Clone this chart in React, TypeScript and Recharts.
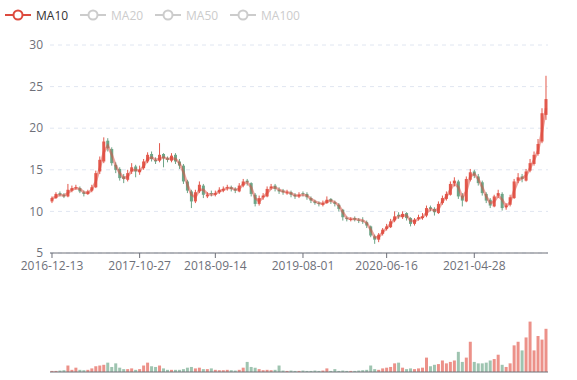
import React from "react";
import {
    ComposedChart,
    BarChart,
    Bar,
    Line,
    XAxis,
    YAxis,
    CartesianGrid,
    Cell,
} from "recharts";

// x axis labels and the bar index they sit on
const tickIndex = [0, 22, 41, 63, 84, 106];
const tickLabels = [
    "2016-12-13",
    "2017-10-27",
    "2018-09-14",
    "2019-08-01",
    "2020-06-16",
    "2021-04-28",
];

const maNames = ["MA10", "MA20", "MA50", "MA100"];

// one candle per ~2 weeks
const open = [
    11.2, 11.6, 12.2, 12.0, 11.8, 12.5, 12.9, 12.8, 12.3, 12.1,
    12.5, 12.9, 14.8, 16.0, 18.5, 17.5, 15.6, 15.1, 14.2, 13.8,
    14.8, 15.4, 14.7, 15.2, 16.0, 16.9, 16.2, 16.1, 16.9, 16.4,
    16.1, 16.8, 16.0, 15.5, 13.6, 12.4, 11.2, 12.4, 13.1, 11.8,
    12.2, 12.0, 12.3, 12.5, 12.8, 12.9, 12.7, 12.4, 13.1, 13.7,
    13.4, 12.0, 10.9, 11.7, 11.8, 12.8, 13.1, 12.6, 12.5, 12.2,
    12.3, 12.0, 11.8, 12.2, 12.1, 11.6, 11.2, 11.0, 10.8, 11.0,
    11.5, 11.1, 10.8, 10.2, 9.2, 9.0, 9.2, 9.0, 8.9, 8.7,
    8.2, 7.0, 6.6, 7.3, 7.9, 8.1, 8.9, 9.6, 9.3, 9.8,
    9.2, 8.5, 9.1, 9.2, 9.5, 10.5, 10.3, 9.8, 11.0, 11.5,
    12.0, 13.4, 13.6, 11.9, 11.2, 13.8, 14.8, 14.2, 13.5, 12.1,
    11.4, 10.6, 11.9, 12.1, 10.5, 10.8, 11.6, 13.7, 14.2, 13.7,
    14.9, 15.7, 16.9, 18.4, 21.6,
];
const close = [
    11.6, 12.1, 12.0, 11.8, 12.6, 12.8, 12.9, 12.4, 12.1, 12.4,
    12.9, 14.6, 16.2, 18.4, 17.6, 15.8, 15.0, 14.0, 13.9, 14.6,
    15.3, 14.8, 15.0, 16.0, 16.8, 16.3, 16.0, 16.8, 16.4, 16.2,
    16.7, 16.0, 15.5, 13.6, 12.5, 11.2, 12.3, 13.2, 12.0, 12.0,
    12.1, 12.2, 12.6, 12.7, 12.9, 12.7, 12.5, 13.1, 13.6, 13.5,
    12.1, 10.9, 11.6, 11.9, 12.7, 13.0, 12.7, 12.4, 12.3, 12.3,
    12.0, 11.8, 12.0, 12.1, 11.7, 11.3, 11.0, 10.9, 11.0, 11.4,
    11.2, 10.9, 10.3, 9.3, 9.1, 9.1, 9.0, 8.9, 8.8, 8.3,
    7.1, 6.6, 7.2, 7.8, 8.2, 8.8, 9.4, 9.4, 9.7, 9.2,
    8.5, 9.0, 9.3, 9.4, 10.4, 10.3, 9.9, 10.9, 11.6, 12.1,
    13.3, 13.7, 11.8, 11.3, 13.9, 14.7, 14.3, 13.4, 12.2, 11.3,
    10.7, 11.8, 12.2, 10.4, 10.7, 11.7, 13.6, 14.1, 13.9, 14.8,
    15.8, 16.8, 18.1, 21.8, 23.5,
];
const high = [
    11.8, 12.3, 12.4, 12.2, 13.3, 13.1, 13.2, 13.0, 12.5, 12.6,
    13.2, 14.9, 16.6, 18.9, 18.8, 17.7, 15.9, 15.3, 14.5, 15.0,
    15.8, 15.6, 15.5, 16.3, 17.1, 17.2, 16.5, 18.2, 17.0, 16.6,
    17.0, 17.0, 16.3, 15.7, 13.8, 12.6, 12.6, 13.6, 13.3, 12.3,
    12.5, 12.5, 12.9, 13.0, 13.2, 13.1, 12.9, 13.4, 13.9, 13.9,
    13.5, 12.2, 11.9, 12.2, 13.0, 13.3, 13.3, 12.9, 12.7, 12.6,
    12.5, 12.2, 12.3, 12.4, 12.3, 11.8, 11.4, 11.2, 11.3, 11.8,
    11.6, 11.3, 11.0, 10.3, 9.4, 9.3, 9.4, 9.2, 9.3, 8.9,
    8.3, 7.2, 7.4, 8.0, 8.5, 9.1, 10.0, 9.9, 10.0, 9.9,
    9.3, 9.2, 9.6, 9.8, 10.7, 10.7, 10.5, 11.2, 11.9, 12.4,
    13.6, 14.1, 13.8, 12.2, 14.2, 15.1, 15.0, 14.5, 13.7, 12.3,
    11.6, 12.0, 12.6, 12.3, 11.0, 12.0, 13.9, 14.6, 14.5, 15.1,
    16.3, 17.2, 18.7, 22.4, 26.3,
];
const low = [
    11.0, 11.5, 11.8, 11.6, 11.7, 12.3, 12.6, 12.2, 11.8, 12.0,
    12.3, 12.8, 14.5, 15.8, 17.2, 15.5, 14.6, 13.7, 13.4, 13.6,
    14.5, 14.1, 14.4, 15.0, 15.8, 16.0, 15.7, 15.9, 15.3, 15.9,
    15.9, 15.7, 15.1, 13.3, 12.2, 10.4, 11.0, 12.2, 11.6, 11.6,
    11.8, 11.8, 12.1, 12.3, 12.5, 12.4, 12.2, 12.3, 12.9, 13.1,
    11.8, 10.6, 10.7, 11.4, 11.7, 12.6, 12.4, 12.1, 12.0, 12.0,
    11.7, 11.5, 11.6, 11.8, 11.4, 11.0, 10.8, 10.6, 10.6, 10.9,
    10.9, 10.6, 10.0, 8.9, 8.8, 8.8, 8.8, 8.6, 8.5, 8.0,
    6.9, 6.1, 6.3, 7.1, 7.7, 8.0, 8.7, 9.1, 9.1, 8.9,
    8.2, 8.3, 8.9, 9.0, 9.3, 10.0, 9.5, 9.7, 10.8, 11.3,
    11.9, 13.0, 11.5, 10.6, 11.1, 13.6, 14.0, 13.1, 11.9, 11.0,
    10.4, 10.5, 11.6, 10.1, 10.2, 10.6, 11.5, 13.4, 13.5, 13.6,
    14.7, 15.5, 16.7, 18.2, 21.0,
];
const ma10 = [
    11.5, 11.8, 12.0, 11.9, 12.2, 12.6, 12.8, 12.7, 12.3, 12.2,
    12.6, 13.6, 15.2, 17.1, 17.9, 16.8, 15.5, 14.6, 14.0, 14.2,
    14.9, 15.0, 14.9, 15.4, 16.3, 16.5, 16.2, 16.3, 16.5, 16.3,
    16.4, 16.3, 15.8, 14.7, 13.2, 12.0, 11.7, 12.6, 12.6, 12.1,
    12.0, 12.1, 12.4, 12.6, 12.8, 12.8, 12.6, 12.7, 13.3, 13.5,
    12.9, 11.6, 11.2, 11.7, 12.2, 12.8, 12.9, 12.6, 12.4, 12.3,
    12.2, 11.9, 11.9, 12.0, 11.9, 11.5, 11.2, 11.0, 10.9, 11.2,
    11.3, 11.1, 10.7, 9.9, 9.2, 9.1, 9.1, 9.0, 8.9, 8.6,
    7.8, 6.9, 6.9, 7.5, 8.0, 8.5, 9.1, 9.4, 9.5, 9.5,
    8.9, 8.8, 9.1, 9.3, 9.8, 10.3, 10.1, 10.3, 11.2, 11.8,
    12.6, 13.4, 12.9, 11.7, 12.4, 14.2, 14.5, 13.9, 12.9, 11.8,
    11.0, 11.2, 11.9, 11.4, 10.6, 11.1, 12.5, 13.7, 14.0, 14.3,
    15.2, 16.2, 17.3, 19.6, 22.4,
];
const volume = [
    1.5, 1.5, 2, 2.5, 9, 3, 6, 3, 2.5, 3,
    5, 8, 9, 10, 13, 7, 12, 6, 4, 4,
    5, 3, 4, 9, 13, 8, 7, 9, 5, 3,
    3, 3, 3, 4, 6, 7, 5, 6, 4, 4,
    5, 3, 2.5, 2.5, 3, 2.5, 2, 3, 6, 14,
    7, 6, 4, 2.5, 3, 2.5, 3, 9, 2, 1.5,
    2, 1.5, 1.5, 2, 1.5, 1.5, 2, 1.5, 2, 5,
    1.5, 4, 1.5, 2, 1.5, 1.5, 1.5, 2, 2.5, 3,
    9, 4, 3, 5, 6, 7, 12, 13, 6, 4,
    5, 4, 5, 6, 20, 8, 10, 11, 16, 12,
    14, 16, 28, 14, 20, 42, 14, 12, 12, 13,
    16, 18, 24, 10, 7, 12, 37, 42, 30, 48,
    70, 30, 50, 45, 60,
];

const UP = "#e0483a";
const DOWN = "#5e9c7b";
const MA_COLOR = "#dd4a3e";
const AXIS = "#6E7079";

const data = close.map((c, i) => ({
    i,
    open: open[i],
    close: c,
    high: high[i],
    low: low[i],
    ma10: ma10[i],
    volume: volume[i],
}));

function Candle(props: any) {
    const { x, y, width, height, payload } = props;
    if (!payload) return null;
    const top = Math.min(y, y + height);
    const h = Math.abs(height);
    const span = payload.high - payload.low || 1;
    const py = (v: number) => top + ((payload.high - v) / span) * h;
    const up = payload.close >= payload.open;
    const color = up ? UP : DOWN;
    const bodyTop = py(Math.max(payload.open, payload.close));
    const bodyBot = py(Math.min(payload.open, payload.close));
    const cx = x + width / 2;
    return (
        <g opacity={0.9}>
            <line x1={cx} x2={cx} y1={top} y2={top + h} stroke={color} strokeWidth={1} />
            <rect
                x={x}
                y={bodyTop}
                width={width}
                height={Math.max(1, bodyBot - bodyTop)}
                fill={color}
            />
        </g>
    );
}

function LegendBar() {
    return (
        <div style={{ position: "absolute", left: 0, top: 7, height: 16 }}>
            {maNames.map((name, k) => {
                const color = k === 0 ? MA_COLOR : "#cccccc";
                return (
                    <div
                        key={name}
                        style={{
                            position: "absolute",
                            left: 5 + k * 75,
                            top: 0,
                            height: 16,
                            display: "flex",
                            alignItems: "center",
                            whiteSpace: "nowrap",
                        }}
                    >
                        <svg width={26} height={14} style={{ display: "block" }}>
                            <line x1={0} x2={26} y1={7} y2={7} stroke={color} strokeWidth={2} />
                            <circle cx={13} cy={7} r={4.5} fill="#fff" stroke={color} strokeWidth={2} />
                        </svg>
                        <span
                            style={{
                                marginLeft: 5,
                                fontSize: 12,
                                color: k === 0 ? "#333" : "#cccccc",
                            }}
                        >
                            {name}
                        </span>
                    </div>
                );
            })}
        </div>
    );
}

export default function App() {
    return (
        <div
            style={{
                position: "absolute",
                left: 0,
                top: 0,
                width: 577,
                height: 380,
                background: "#fff",
                fontFamily: "'Open Sans', sans-serif",
            }}
        >
            <LegendBar />
            <div style={{ position: "absolute", left: 0, top: 0 }}>
                <ComposedChart
                    width={577}
                    height={290}
                    data={data}
                    margin={{ top: 45, right: 29, bottom: 0, left: 0 }}
                    barCategoryGap="12%"
                >
                    <CartesianGrid vertical={false} stroke="#E0E6F1" strokeDasharray="4 4" />
                    <XAxis
                        dataKey="i"
                        type="category"
                        ticks={tickIndex}
                        interval={0}
                        tickFormatter={(v) => tickLabels[tickIndex.indexOf(v)] ?? ""}
                        height={37}
                        axisLine={{ stroke: AXIS }}
                        tickLine={{ stroke: AXIS }}
                        tickSize={5}
                        tickMargin={3}
                        tick={{ fill: AXIS, fontSize: 12 }}
                    />
                    <YAxis
                        domain={[5, 30]}
                        ticks={[5, 10, 15, 20, 25, 30]}
                        width={50}
                        axisLine={false}
                        tickLine={false}
                        tickSize={5}
                        tickMargin={2}
                        tick={{ fill: AXIS, fontSize: 12 }}
                    />
                    <Bar
                        dataKey={(d: any) => [d.low, d.high]}
                        shape={Candle}
                        isAnimationActive={false}
                    />
                    <Line
                        dataKey="ma10"
                        stroke={MA_COLOR}
                        strokeOpacity={0.5}
                        strokeWidth={2.5}
                        dot={false}
                        activeDot={false}
                        isAnimationActive={false}
                    />
                </ComposedChart>
            </div>
            <div style={{ position: "absolute", left: 0, top: 290 }}>
                <BarChart
                    width={577}
                    height={90}
                    data={data}
                    margin={{ top: 10, right: 29, bottom: 0, left: 50 }}
                    barCategoryGap="12%"
                >
                    <XAxis
                        dataKey="i"
                        tick={false}
                        tickLine={false}
                        height={8}
                        axisLine={{ stroke: AXIS }}
                    />
                    <YAxis hide domain={[0, 100]} />
                    <Bar dataKey="volume" isAnimationActive={false}>
                        {data.map((d) => (
                            <Cell
                                key={d.i}
                                fill={d.close >= d.open ? UP : DOWN}
                                fillOpacity={0.6}
                            />
                        ))}
                    </Bar>
                </BarChart>
            </div>
        </div>
    );
}
